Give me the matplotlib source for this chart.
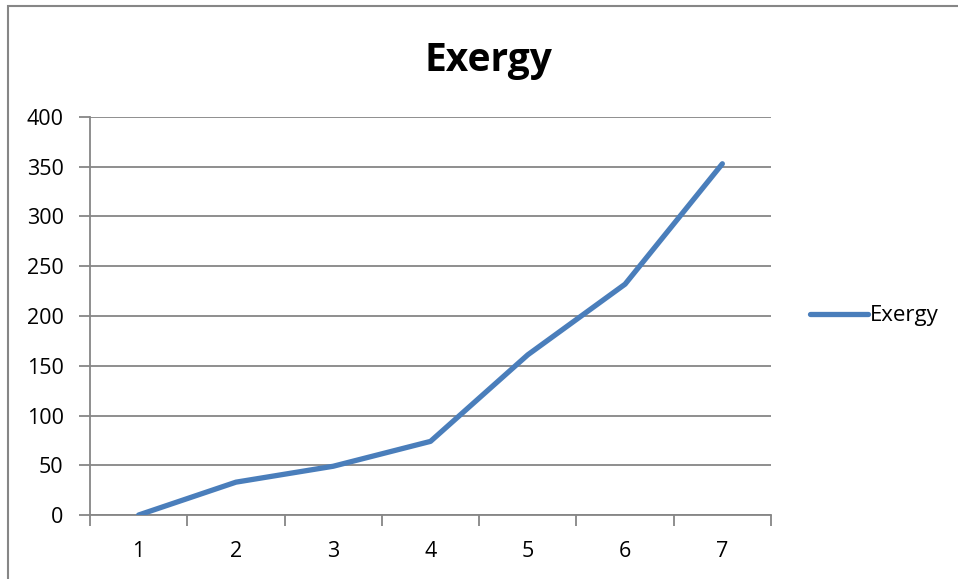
import numpy as np
import matplotlib.pyplot as plt
from matplotlib.patches import Rectangle

plt.rcParams['font.family'] = ['Open Sans', 'DejaVu Sans']

categories = ['1', '2', '3', '4', '5', '6', '7']
exergy = [0, 33, 49, 74, 161, 232, 353]
yticks = [0, 50, 100, 150, 200, 250, 300, 350, 400]

line_col = '#4A7EBB'
grid_col = '#868686'

fig = plt.figure(figsize=(9.58, 5.79), dpi=100)
ax = fig.add_axes([90 / 958, 64 / 579, 681 / 958, 398 / 579])

x = np.arange(1, len(categories) + 1)
ax.plot(x, exergy, color=line_col, lw=3.8, solid_capstyle='round',
        solid_joinstyle='round', label='Exergy', zorder=3)

ax.set_xlim(0.5, len(categories) + 0.5)
ax.set_ylim(0, 400)
ax.set_yticks(yticks)
ax.yaxis.grid(True, color=grid_col, lw=1.3)
ax.set_axisbelow(True)

# category ticks sit between the labels
ax.set_xticks(np.arange(0.5, len(categories) + 1, 1))
ax.set_xticklabels([])
ax.set_xticks(x, minor=True)
ax.set_xticklabels(categories, minor=True)
ax.tick_params(axis='x', which='major', length=8, width=1.3, color=grid_col)
ax.tick_params(axis='x', which='minor', length=0, pad=19, labelsize=15.5)
ax.tick_params(axis='y', length=8, width=1.3, color=grid_col, labelsize=15.5, pad=11)

for side in ['top', 'right']:
    ax.spines[side].set_visible(False)
for side in ['left', 'bottom']:
    ax.spines[side].set_color(grid_col)
    ax.spines[side].set_linewidth(1.3)

fig.text(488 / 958, 1 - 61 / 579, 'Exergy', ha='center', va='center',
         fontsize=28, fontweight='bold')

ax.legend(loc='center left', bbox_to_anchor=(1.028, 0.5), frameon=False,
          fontsize=16, handlelength=2.6, handletextpad=0.1)

# outer chart border
fig.patches.append(Rectangle((8 / 958, -0.1), 1.2, 1 - 6 / 579 + 0.1,
                             transform=fig.transFigure, fill=False,
                             edgecolor=grid_col, lw=1.5))

fig.savefig('out.png', dpi=100)
